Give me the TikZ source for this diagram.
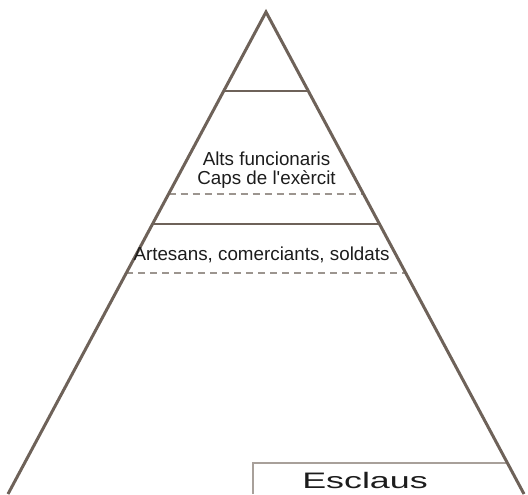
\documentclass[tikz,border=0pt]{standalone}
\usepackage{fontspec}
\setmainfont{Liberation Sans}
\usepackage{graphicx}
\usepackage{tikz}
\usetikzlibrary{calc}
\definecolor{pyr-brown}{HTML}{6E6259}
\definecolor{pyr-dash}{HTML}{9C958F}
\definecolor{pyr-box}{HTML}{A8A09A}
\definecolor{pyr-text}{HTML}{1C1C1C}

\begin{document}
\begin{tikzpicture}[x=0.5pt, y=-0.5pt,
    edge/.style={pyr-brown, line width=1.5pt, line join=miter},
    level/.style={pyr-brown, line width=1.2pt},
    sep/.style={pyr-dash, line width=0.75pt, dash pattern=on 3.5pt off 2.5pt},
    boxline/.style={pyr-box, line width=0.75pt},
    lbl/.style={font=\fontsize{9.4}{9.5}\selectfont, text=pyr-text, inner sep=0pt, anchor=base, align=center},
]
    \useasboundingbox (0,0) rectangle (528,494);

    % Corners of the pyramid
    \coordinate (apex) at (266,12);
    \coordinate (bl) at (8,494);
    \coordinate (br) at (524,494);

    % Levels
    \draw[level] ($(apex)!0.164!(bl)$) -- ($(apex)!0.164!(br)$);
    \draw[level] ($(apex)!0.4398!(bl)$) -- ($(apex)!0.4398!(br)$);
    \draw[sep] ($(apex)!0.3776!(bl)$) -- ($(apex)!0.3776!(br)$);
    \draw[sep] ($(apex)!0.5415!(bl)$) -- ($(apex)!0.5415!(br)$);

    % Slaves box
    \coordinate (boxcorner) at ($(apex)!0.9357!(br)$);
    \draw[boxline] (253,494) |- (boxcorner);

    % Sides
    \draw[edge] (bl) -- (apex) -- (br);

    % Labels
    \node[lbl] (alts) at (266.5,184) {Alts funcionaris\\Caps de l\textquotesingle exèrcit};
    \node[lbl] (artesans) at (261.5,260) {Artesans, comerciants, soldats};
    \node[lbl] (esclaus) at (365,488) {\scalebox{1.6}[1]{\fontsize{11.2}{12}\selectfont Esclaus}};

\end{tikzpicture}
\end{document}
